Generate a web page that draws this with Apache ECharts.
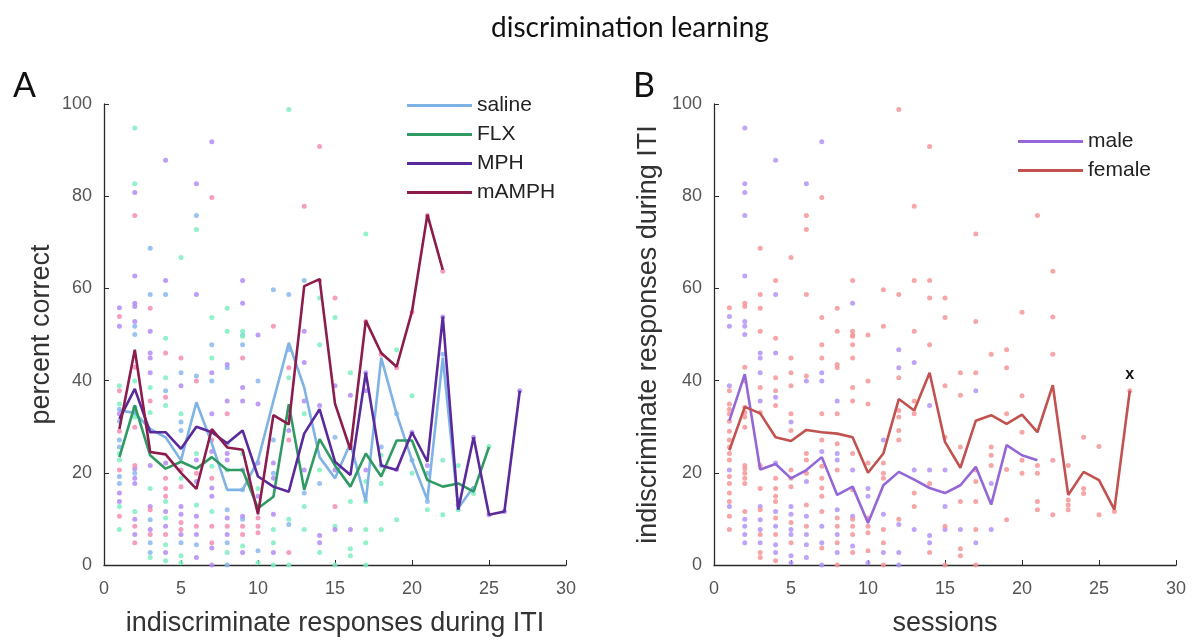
<!DOCTYPE html>
<html>
<head>
<meta charset="utf-8">
<script src="https://cdn.jsdelivr.net/npm/echarts@6/dist/echarts.min.js"></script>
<style>
html,body{margin:0;padding:0;background:#fff;}
#chart{width:1193px;height:642px;}
</style>
</head>
<body>
<div id="chart"></div>
<script>
// ---- Panel A: group means per session (index = session - 1) ----
const salineMean = [33.5, 33, 29.5, 27.7, 22.7, 35.3, 26.4, 16.3, 16.3, 22.7, 35.6, 48.2, 38.5, 23.4, 18.8, 26.4, 13.8, 45, 32.8, 22.7, 14.1, 45, 12.3, 17];
const flxMean = [23.4, 34.6, 23.8, 20.9, 22.4, 20.9, 23.4, 20.6, 20.6, 12.3, 14.8, 34.9, 16.3, 27.3, 21.6, 17, 24.2, 19.2, 27, 27, 18.4, 17, 17.7, 15.9, 25.6];
const mphMean = [31.7, 38.2, 28.8, 28.8, 25.2, 30, 28.8, 26.4, 29.2, 19.2, 17, 15.9, 28.5, 33.8, 22.4, 19.5, 41.7, 21.6, 20.6, 28.8, 22.4, 53.9, 12, 27.7, 10.9, 11.6, 37.8];
const mamphMean = [29.5, 46.7, 24.5, 24, 20, 16.5, 29.5, 25.5, 25, 11, 32.5, 30.5, 60.5, 62, 35, 25, 53, 46, 43, 55, 76, 64];
// ---- Panel B: sex means per session ----
const maleMean = [31.3, 41.4, 20.7, 21.9, 18.8, 20.6, 23.4, 15.2, 17, 9.1, 17.3, 20.2, 18.5, 16.7, 15.6, 17.3, 21.3, 13.1, 26, 23.8, 22.7];
const femaleMean = [24.9, 34.3, 32.9, 27.7, 26.9, 29.3, 28.8, 28.5, 27.7, 20, 24.2, 36, 33.5, 41.7, 26.7, 21.1, 31.3, 32.5, 30.6, 32.6, 28.8, 39, 15.2, 20.2, 18.4, 12, 37.8];

const drugNames = ['saline', 'FLX', 'MPH', 'mAMPH'];
const sexNames = ['male', 'female'];
const xTicks = [0, 5, 10, 15, 20, 25, 30];
const yTicks = [0, 20, 40, 60, 80, 100];

// individual animals: [session, value, drug (0 saline,1 FLX,2 MPH,3 mAMPH), sex (0 male,1 female)]
const dots = [
[1,55.8,2,1],[1,53.9,3,0],[1,51.8,2,0],[1,38.9,1,0],[1,37.8,3,1],[1,34.9,1,1],[1,33.8,0,1],[1,32.8,2,1],[1,31.2,0,1],[1,29.0,3,1],[1,27.1,0,1],[1,25.6,0,1],[1,24.2,1,1],[1,22.8,1,1],[1,20.6,3,0],[1,19.2,0,1],[1,17.7,0,1],[1,15.6,2,1],[1,13.8,2,1],[1,12.7,1,0],[1,10.6,3,1],[1,7.7,1,1],
[2,94.8,1,0],[2,82.7,1,0],[2,80.8,2,0],[2,75.8,3,0],[2,62.7,2,0],[2,56.8,2,1],[2,56.1,2,1],[2,52.8,2,0],[2,51.8,0,0],[2,50,0,0],[2,42.9,3,1],[2,39.9,1,1],[2,34.2,0,1],[2,33.1,0,1],[2,32.1,1,1],[2,29.9,3,1],[2,21.6,3,1],[2,20.9,2,1],[2,19.9,0,1],[2,18.8,2,1],[2,17.7,2,1],[2,11.6,1,1],[2,9.9,2,0],[2,8.4,3,0],[2,6.6,2,0],[2,4.8,3,0],
[3,68.7,0,1],[3,58.7,0,1],[3,55.7,3,1],[3,50.7,2,1],[3,46,2,0],[3,44.9,2,0],[3,41.7,2,0],[3,38.5,1,1],[3,35.6,3,0],[3,33.1,1,1],[3,21.6,2,1],[3,16.6,1,1],[3,12.7,2,0],[3,12,3,1],[3,9.8,0,0],[3,7.7,2,0],[3,6.6,3,1],[3,4.8,0,0],[3,2.7,0,1],[3,1.6,1,1],
[4,87.8,2,0],[4,61.7,2,1],[4,58.7,0,0],[4,49.2,1,1],[4,46,3,0],[4,40.6,1,1],[4,37.8,0,1],[4,36.4,3,0],[4,34.6,1,1],[4,22.1,2,0],[4,18.8,3,1],[4,16.6,3,1],[4,14.9,3,1],[4,13.8,1,1],[4,11.6,2,0],[4,10.2,1,1],[4,8.4,2,0],[4,6.6,3,1],[4,4.4,1,0],[4,2.7,2,0],[4,0.9,1,1],
[5,66.7,1,1],[5,44.9,3,1],[5,41.7,0,1],[5,38.9,2,1],[5,32.8,1,1],[5,31,0,0],[5,29.2,0,1],[5,20.6,3,1],[5,18.8,1,1],[5,17,3,1],[5,12.7,2,0],[5,11,2,0],[5,9.2,3,1],[5,7.7,3,0],[5,6.6,2,0],[5,4.8,0,1],[5,2,1,0],[5,0.5,1,0],
[6,82.7,2,0],[6,75.8,0,1],[6,72.8,1,1],[6,58.7,2,1],[6,41,0,1],[6,39.9,3,0],[6,24.2,1,1],[6,22.8,2,1],[6,19.9,3,1],[6,18.1,2,0],[6,13,1,1],[6,10.6,2,0],[6,8.4,3,1],[6,6.6,2,0],[6,4.4,0,0],[6,1.6,2,0],
[7,91.8,2,0],[7,79.7,3,1],[7,53.7,1,1],[7,47.8,0,1],[7,44.9,1,1],[7,41.7,2,0],[7,39.9,0,0],[7,32.8,2,1],[7,27.1,3,1],[7,24.6,2,0],[7,21.4,1,1],[7,18.8,3,1],[7,16.7,2,1],[7,14.9,2,1],[7,11.6,1,1],[7,8.4,3,0],[7,4.8,3,0],[7,3.7,2,1],[7,0,2,0],
[8,55.7,1,1],[8,50.7,1,1],[8,43.5,2,1],[8,42.8,0,1],[8,35.6,2,0],[8,32.8,3,1],[8,26.3,0,1],[8,24.2,2,0],[8,22.8,2,0],[8,20.6,1,1],[8,12,0,0],[8,10.2,2,1],[8,8.4,3,1],[8,6.6,2,0],[8,4.8,0,1],[8,2.7,1,0],[8,0,0,1],
[9,61.7,2,1],[9,56.8,2,0],[9,50.7,1,1],[9,49.9,0,1],[9,49.6,1,1],[9,47.8,0,1],[9,44.9,3,1],[9,38.5,2,1],[9,35.6,2,1],[9,24.2,1,1],[9,20.6,2,0],[9,16.3,0,1],[9,10.6,2,0],[9,9.9,0,1],[9,8.4,3,1],[9,6.6,3,1],[9,4.1,1,0],[9,2.7,2,1],
[10,49.9,2,1],[10,39.9,0,1],[10,34.9,2,1],[10,22.1,2,1],[10,16.6,1,0],[10,14.9,2,0],[10,10.2,3,1],[10,8.4,3,1],[10,7,3,1],[10,3.1,0,1],[10,0.5,1,0],
[11,59.7,0,1],[11,51.8,3,1],[11,27.1,0,0],[11,22.1,2,1],[11,19.9,0,1],[11,18.8,2,1],[11,11,2,0],[11,7.7,1,1],[11,4.8,1,1],[11,2.7,2,0],[11,0,1,1],
[12,98.8,1,1],[12,58.7,0,1],[12,46.7,0,0],[12,42.8,3,0],[12,40.6,1,1],[12,33.5,0,1],[12,32.1,2,1],[12,29.2,2,1],[12,27.1,3,1],[12,9.9,1,1],[12,8.8,0,0],[12,2.7,3,0],[12,0,1,0],
[13,77.8,3,1],[13,61.7,0,1],[13,50.7,2,1],[13,43.9,2,0],[13,35.6,2,1],[13,32.8,1,1],[13,20.6,2,0],[13,15.6,0,1],[13,12.7,1,1],[13,7.7,1,0],
[14,90.8,3,1],[14,61.7,3,1],[14,57.9,1,1],[14,47.8,1,1],[14,34.6,2,0],[14,20.6,1,0],[14,17.7,0,1],[14,6.4,2,0],[14,4.8,2,0],[14,2.7,1,1],
[15,57.9,3,1],[15,53.7,1,1],[15,38.9,2,1],[15,27.7,0,1],[15,20.6,2,0],[15,12.7,3,0],[15,8.4,1,1],[15,7.7,2,0],[15,0,1,1],
[16,41.7,1,1],[16,36.8,2,1],[16,25.6,0,1],[16,13.8,1,1],[16,7.7,2,0],[16,3.5,1,1],[16,2,1,1],
[17,71.8,1,1],[17,52.8,3,1],[17,41.7,2,1],[17,37.8,2,0],[17,20.6,2,1],[17,18.1,1,1],[17,13.8,1,1],[17,7.7,1,1],[17,4.8,1,0],[17,0,1,1],
[18,45.7,3,1],[18,25.6,0,1],[18,23.8,1,1],[18,21.6,0,1],[18,17.7,1,0],[18,7.7,1,0],
[19,46.7,1,1],[19,42.8,3,1],[19,32.8,0,1],[19,20.7,2,1],[19,9.8,1,1],
[20,54.8,3,1],[20,36.7,1,1],[20,28.8,2,1],[20,22.7,0,1],[20,19.9,1,1],
[21,75.8,3,1],[21,21.6,2,1],[21,19.9,0,1],[21,13.8,0,1],[21,12,1,1],
[22,63.7,3,1],[22,53.8,2,1],[22,45.7,0,1],[22,22.7,1,1],[22,10.9,1,1],
[23,21.6,1,1],[23,14.1,0,1],[23,13,2,1],[23,12,1,1],
[24,27.7,2,1],[24,16.6,0,1],[24,15.5,1,1],
[25,25.7,1,1],[25,10.9,2,1],
[26,11.6,2,1],
[27,37.8,2,1]
];

const drugLine = ['#7fb3e6', '#2f9a62', '#5a2a9c', '#8c1c4c'];
const drugDot = ['#88b8ef', '#7eeec0', '#b48bf3', '#f38db2'];
const sexLine = ['#9467d8', '#c2524f'];
const sexDot = ['#b394f6', '#f59797'];

function toXY(arr) { return arr.map((v, i) => [i + 1, v]); }

const axisFont = 'Liberation Sans';
function xAx(idx, name) {
  return {
    type: 'value', gridIndex: idx, min: 0, max: 30, interval: 5,
    name: name, nameLocation: 'middle', nameGap: 45,
    nameTextStyle: { fontSize: 27, color: '#333', fontFamily: axisFont },
    axisLine: { show: true, lineStyle: { color: '#2a2a2a', width: 1.3 } },
    axisTick: { show: true, inside: true, length: 5, lineStyle: { color: '#2a2a2a' } },
    axisLabel: { fontSize: 18, color: '#555', margin: 15, fontFamily: axisFont,
      formatter: v => xTicks.includes(v) ? String(v) : '' },
    splitLine: { show: false }
  };
}
function yAx(idx, name, gap) {
  return {
    type: 'value', gridIndex: idx, min: 0, max: 100, interval: 20,
    name: name, nameLocation: 'middle', nameGap: gap,
    nameTextStyle: { fontSize: 27, color: '#333', fontFamily: axisFont },
    axisLine: { show: true, lineStyle: { color: '#2a2a2a', width: 1.3 } },
    axisTick: { show: true, inside: true, length: 5, lineStyle: { color: '#2a2a2a' } },
    axisLabel: { fontSize: 18, color: '#555', margin: 12, fontFamily: axisFont,
      formatter: v => yTicks.includes(v) ? String(v) : '' },
    splitLine: { show: false }
  };
}

const series = [];
// Panel A dots
drugNames.forEach((n, d) => {
  series.push({
    name: n + ' animals', type: 'scatter', xAxisIndex: 0, yAxisIndex: 0,
    symbolSize: 5, itemStyle: { color: drugDot[d], opacity: 0.85 }, z: 1,
    data: dots.filter(p => p[2] === d).map(p => [p[0], p[1]])
  });
});
// Panel B dots
sexNames.forEach((n, s) => {
  series.push({
    name: n + ' animals', type: 'scatter', xAxisIndex: 1, yAxisIndex: 1,
    symbolSize: 5, itemStyle: { color: sexDot[s], opacity: 0.85 }, z: 1,
    data: dots.filter(p => p[3] === s).map(p => [p[0], p[1]])
  });
});
// Panel A lines
[salineMean, flxMean, mphMean, mamphMean].forEach((arr, d) => {
  series.push({
    name: drugNames[d], type: 'line', xAxisIndex: 0, yAxisIndex: 0,
    symbol: 'none', z: 3 + d,
    lineStyle: { color: drugLine[d], width: 2.6 }, itemStyle: { color: drugLine[d] },
    data: toXY(arr)
  });
});
// Panel B lines
[maleMean, femaleMean].forEach((arr, s) => {
  const data = toXY(arr);
  if (s === 1) {
    const last = data.length - 1;
    data[last] = { value: data[last], label: { show: true, formatter: 'x', position: 'top', distance: 8,
      fontSize: 16, fontWeight: 'bold', color: '#111', fontFamily: axisFont } };
  }
  series.push({
    name: sexNames[s], type: 'line', xAxisIndex: 1, yAxisIndex: 1,
    symbol: 'circle', symbolSize: 0, showSymbol: true, z: 3 + s,
    lineStyle: { color: sexLine[s], width: 2.6 }, itemStyle: { color: sexLine[s] },
    data: data
  });
});

const chart = echarts.init(document.getElementById('chart'), null, { renderer: 'canvas' });
chart.setOption({
  animation: false,
  backgroundColor: '#fff',
  title: [
    { text: 'discrimination learning', left: 486, top: 9,
      textStyle: { fontSize: 28, fontWeight: 'normal', color: '#111', fontFamily: 'Lato' } },
    { text: 'A', left: 8, top: 64, textStyle: { fontSize: 34, fontWeight: 'normal', color: '#111', fontFamily: 'Lato' } },
    { text: 'B', left: 628, top: 64, textStyle: { fontSize: 34, fontWeight: 'normal', color: '#111', fontFamily: 'Lato' } }
  ],
  grid: [
    { left: 104, right: 627, top: 104, bottom: 73 },
    { left: 714, right: 17, top: 104, bottom: 73 }
  ],
  xAxis: [xAx(0, 'indiscriminate responses during ITI'), xAx(1, 'sessions')],
  yAxis: [yAx(0, 'percent correct', 49), yAx(1, 'indiscriminate responses during ITI', 52)],
  legend: [
    { data: drugNames, orient: 'vertical', left: 402, top: 90, itemWidth: 65, itemHeight: 3, itemGap: 8,
      icon: 'rect', textStyle: { fontSize: 21, color: '#222', fontFamily: axisFont }, selectedMode: false },
    { data: sexNames, orient: 'vertical', left: 1013, top: 126, itemWidth: 65, itemHeight: 3, itemGap: 8,
      icon: 'rect', textStyle: { fontSize: 21, color: '#222', fontFamily: axisFont }, selectedMode: false }
  ],
  series: series
});
</script>
</body>
</html>
